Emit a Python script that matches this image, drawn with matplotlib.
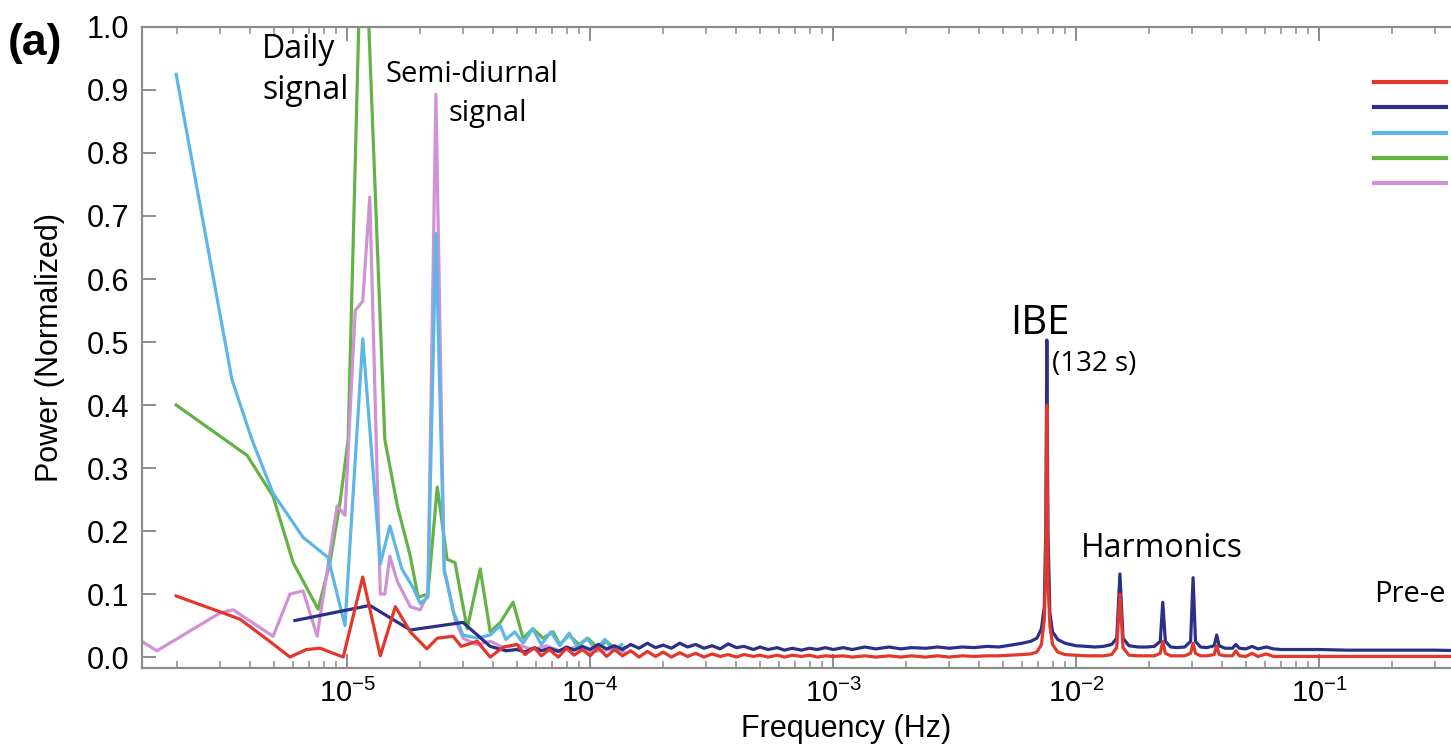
import matplotlib
matplotlib.use("Agg")
import matplotlib.pyplot as plt
from matplotlib.lines import Line2D
from matplotlib.ticker import LogLocator, NullFormatter, FormatStrFormatter

plt.rcParams['font.family'] = ['Liberation Sans', 'DejaVu Sans']
plt.rcParams['mathtext.fontset'] = 'custom'
plt.rcParams['mathtext.rm'] = 'Liberation Sans'
plt.rcParams['mathtext.it'] = 'Liberation Sans:italic'
plt.rcParams['mathtext.bf'] = 'Liberation Sans:bold'

# --- data ---
# low-frequency part, each series has its own sampling
sky_f = [1.98e-6, 3.36e-6, 4.06e-6, 4.96e-6, 6.59e-6, 8.35e-6, 9.8e-6, 1.16e-5,
         1.37e-5, 1.50e-5, 1.68e-5, 1.87e-5, 2.0e-5, 2.15e-5, 2.32e-5, 2.51e-5,
         2.73e-5, 3.0e-5, 3.43e-5, 3.88e-5, 4.27e-5, 4.5e-5, 4.9e-5, 5.3e-5,
         5.8e-5, 6.3e-5, 6.9e-5, 7.5e-5, 8.2e-5, 8.9e-5, 9.7e-5, 1.05e-4,
         1.15e-4, 1.25e-4, 1.35e-4]
sky_p = [0.925, 0.44, 0.345, 0.26, 0.19, 0.158, 0.05, 0.505,
         0.148, 0.208, 0.14, 0.11, 0.085, 0.095, 0.672, 0.14,
         0.073, 0.035, 0.03, 0.035, 0.05, 0.028, 0.04, 0.022,
         0.045, 0.02, 0.04, 0.018, 0.038, 0.015, 0.03, 0.012,
         0.028, 0.01, 0.02]

green_f = [1.98e-6, 3.88e-6, 4.96e-6, 6.0e-6, 7.6e-6, 8.5e-6, 9.35e-6, 1.01e-5,
           1.16e-5, 1.43e-5, 1.61e-5, 1.82e-5, 1.96e-5, 2.15e-5, 2.35e-5, 2.58e-5,
           2.78e-5, 3.12e-5, 3.53e-5, 3.88e-5, 4.27e-5, 4.82e-5, 5.3e-5, 5.82e-5,
           6.4e-5, 7.05e-5, 7.5e-5, 8.2e-5, 9.0e-5, 9.8e-5, 1.07e-4, 1.17e-4,
           1.28e-4, 1.38e-4]
green_p = [0.40, 0.32, 0.255, 0.15, 0.076, 0.15, 0.245, 0.345,
           1.25, 0.345, 0.24, 0.16, 0.095, 0.10, 0.27, 0.155,
           0.15, 0.045, 0.14, 0.04, 0.055, 0.087, 0.03, 0.045,
           0.03, 0.04, 0.02, 0.035, 0.02, 0.03, 0.015, 0.025,
           0.012, 0.015]

pink_f = [1.43e-6, 1.65e-6, 3.0e-6, 3.4e-6, 4.96e-6, 5.82e-6, 6.59e-6, 7.53e-6,
          9.1e-6, 9.8e-6, 1.08e-5, 1.16e-5, 1.24e-5, 1.37e-5, 1.43e-5, 1.50e-5,
          1.61e-5, 1.82e-5, 2.0e-5, 2.15e-5, 2.32e-5, 2.51e-5, 2.58e-5, 2.78e-5,
          3.0e-5, 3.4e-5, 3.9e-5, 4.4e-5, 5.0e-5, 5.8e-5, 6.6e-5, 7.5e-5,
          8.6e-5, 1.0e-4, 1.2e-4, 1.38e-4]
pink_p = [0.025, 0.01, 0.07, 0.075, 0.033, 0.10, 0.105, 0.033,
          0.24, 0.225, 0.55, 0.565, 0.73, 0.10, 0.10, 0.16,
          0.12, 0.08, 0.075, 0.10, 0.893, 0.135, 0.12, 0.06,
          0.03, 0.02, 0.025, 0.015, 0.02, 0.012, 0.018, 0.01,
          0.015, 0.008, 0.012, 0.008]

red_lo_f = [1.98e-6, 3.09e-6, 3.63e-6, 4.69e-6, 5.82e-6, 6.8e-6, 7.75e-6, 9.64e-6,
            1.16e-5, 1.37e-5, 1.58e-5, 1.82e-5, 2.13e-5, 2.35e-5, 2.73e-5, 2.95e-5,
            3.43e-5, 3.88e-5, 4.4e-5]
red_lo_p = [0.097, 0.070, 0.060, 0.028, 0.0, 0.012, 0.014, 0.0,
            0.127, 0.002, 0.08, 0.04, 0.013, 0.03, 0.033, 0.017,
            0.025, 0.0, 0.016]

navy_lo_f = [6.1e-6, 1.24e-5, 1.82e-5, 3.0e-5, 3.88e-5, 4.5e-5]
navy_lo_p = [0.058, 0.082, 0.043, 0.055, 0.017, 0.01]

# shared high-frequency sampling of the red and navy records
hi_f = [5.0e-5, 5.4e-5, 5.9e-5, 6.3e-5, 6.8e-5, 7.4e-5, 8.0e-5, 8.6e-5, 9.3e-5,
        1.0e-4, 1.08e-4, 1.17e-4, 1.26e-4, 1.36e-4, 1.47e-4, 1.59e-4, 1.72e-4,
        1.86e-4, 2.0e-4, 2.16e-4, 2.34e-4, 2.52e-4, 2.72e-4, 2.94e-4, 3.18e-4,
        3.43e-4, 3.7e-4, 4.0e-4, 4.3e-4, 4.7e-4, 5.0e-4, 5.4e-4, 5.9e-4, 6.3e-4,
        6.8e-4, 7.4e-4, 8.0e-4, 8.6e-4, 9.3e-4, 1.0e-3, 1.1e-3, 1.2e-3, 1.35e-3,
        1.5e-3, 1.7e-3, 1.9e-3, 2.1e-3, 2.4e-3, 2.7e-3, 3.0e-3, 3.4e-3, 3.8e-3,
        4.3e-3, 4.8e-3, 5.4e-3, 6.0e-3, 6.5e-3, 6.9e-3, 7.2e-3, 7.4e-3, 7.5e-3,
        7.58e-3, 7.66e-3, 7.8e-3, 8.0e-3, 8.4e-3, 9.0e-3, 1.0e-2, 1.1e-2, 1.2e-2,
        1.3e-2, 1.4e-2, 1.47e-2, 1.515e-2, 1.56e-2, 1.65e-2, 1.8e-2, 1.95e-2,
        2.1e-2, 2.22e-2, 2.273e-2, 2.33e-2, 2.45e-2, 2.6e-2, 2.8e-2, 2.96e-2,
        3.03e-2, 3.1e-2, 3.25e-2, 3.45e-2, 3.7e-2, 3.79e-2, 3.88e-2, 4.1e-2,
        4.4e-2, 4.545e-2, 4.7e-2, 5.0e-2, 5.3e-2, 5.6e-2, 6.06e-2, 6.5e-2,
        7.0e-2, 8.0e-2, 9.0e-2, 0.1, 0.13, 0.16, 0.2, 0.25, 0.3, 0.4, 0.5,
        0.6, 0.8, 0.9]
navy_hi_p = [0.012, 0.008, 0.015, 0.010, 0.014, 0.009, 0.016, 0.011, 0.017,
             0.012, 0.020, 0.013, 0.018, 0.012, 0.020, 0.014, 0.022,
             0.015, 0.019, 0.014, 0.022, 0.016, 0.020, 0.014, 0.018,
             0.013, 0.021, 0.015, 0.017, 0.012, 0.016, 0.012, 0.015, 0.011,
             0.014, 0.011, 0.014, 0.012, 0.015, 0.012, 0.015, 0.012, 0.016,
             0.013, 0.016, 0.013, 0.015, 0.014, 0.016, 0.014, 0.016, 0.015,
             0.017, 0.016, 0.019, 0.022, 0.025, 0.030, 0.045, 0.080, 0.20,
             0.503, 0.20, 0.070, 0.040, 0.028, 0.022, 0.018, 0.017, 0.016,
             0.017, 0.020, 0.030, 0.132, 0.030, 0.018, 0.016, 0.016,
             0.017, 0.025, 0.087, 0.025, 0.016, 0.015, 0.016, 0.025,
             0.126, 0.025, 0.016, 0.015, 0.018, 0.035, 0.018, 0.014,
             0.014, 0.020, 0.014, 0.013, 0.017, 0.013, 0.016, 0.013,
             0.012, 0.012, 0.012, 0.012, 0.011, 0.011, 0.011, 0.011, 0.011, 0.010, 0.010,
             0.010, 0.010, 0.010]
red_hi_p = [0.020, 0.004, 0.015, 0.002, 0.012, 0.000, 0.014, 0.003, 0.012,
            0.002, 0.015, 0.001, 0.012, 0.002, 0.010, 0.000, 0.009,
            0.001, 0.008, 0.000, 0.007, 0.001, 0.006, 0.000, 0.005,
            0.001, 0.004, 0.000, 0.004, 0.001, 0.003, 0.000, 0.003, 0.000,
            0.003, 0.001, 0.003, 0.000, 0.002, 0.001, 0.002, 0.000, 0.002,
            0.000, 0.002, 0.000, 0.002, 0.000, 0.002, 0.000, 0.002, 0.001,
            0.002, 0.002, 0.003, 0.004, 0.005, 0.008, 0.020, 0.060, 0.15,
            0.40, 0.12, 0.050, 0.020, 0.008, 0.004, 0.003, 0.002, 0.002,
            0.002, 0.004, 0.015, 0.100, 0.015, 0.003, 0.002, 0.002,
            0.002, 0.006, 0.025, 0.006, 0.002, 0.002, 0.002, 0.006,
            0.022, 0.006, 0.002, 0.002, 0.004, 0.018, 0.004, 0.002,
            0.002, 0.010, 0.002, 0.001, 0.006, 0.001, 0.005, 0.001,
            0.001, 0.001, 0.001, 0.001, 0.001, 0.001, 0.001, 0.001, 0.001, 0.001, 0.001,
            0.001, 0.001, 0.001]

colors = {'red': '#e2372b', 'navy': '#2c2f88', 'sky': '#5db6e6',
          'green': '#63b246', 'pink': '#cf92d4'}

fig = plt.figure(figsize=(14.51, 7.49), dpi=100)
# axes run past the right edge of the picture, as in the cropped original
ax = fig.add_axes([0.0979, 0.108, 0.971, 0.856])

lw = 2.3
ax.plot(green_f, green_p, color=colors['green'], lw=lw)
ax.plot(pink_f, pink_p, color=colors['pink'], lw=lw)
ax.plot(sky_f, sky_p, color=colors['sky'], lw=lw)
ax.plot(navy_lo_f + hi_f, navy_lo_p + navy_hi_p, color=colors['navy'], lw=lw)
ax.plot(red_lo_f + hi_f, red_lo_p + red_hi_p, color=colors['red'], lw=lw)

ax.set_xscale('log')
ax.set_xlim(1.433e-6, 0.9)
ax.set_ylim(-0.0175, 1.0)

ax.xaxis.set_major_locator(LogLocator(base=10, numticks=20))
ax.xaxis.set_minor_locator(LogLocator(base=10, subs=range(2, 10), numticks=20))
ax.xaxis.set_minor_formatter(NullFormatter())
ax.set_yticks([i / 10 for i in range(11)])
ax.yaxis.set_major_formatter(FormatStrFormatter('%.1f'))

for s in ax.spines.values():
    s.set_color('#8c8c8c')
    s.set_linewidth(1.6)
ax.tick_params(which='both', direction='in', top=True, right=False, color='#8c8c8c')
ax.tick_params(which='major', length=10, width=1.4, pad=9)
ax.tick_params(which='minor', length=5, width=1.1)
ax.tick_params(axis='y', labelsize=22)
ax.tick_params(axis='x', labelsize=21, pad=8)

ax.set_xlabel('Frequency (Hz)', fontsize=22, labelpad=4)
ax.set_ylabel('Power (Normalized)', fontsize=22, labelpad=16)

fig.text(0.005, 0.942, '(a)', fontsize=32, fontweight='bold', va='center', ha='left')

ann = ['Open Sans', 'DejaVu Sans']
ax.text(4.47e-6, 0.99, 'Daily\nsignal', family=ann, fontsize=23, va='top', ha='left',
        linespacing=1.3)
ax.text(3.25e-5, 0.947, 'Semi-diurnal', family=ann, fontsize=21, va='top', ha='center')
ax.text(3.78e-5, 0.885, 'signal', family=ann, fontsize=21, va='top', ha='center')
ax.text(7.1e-3, 0.512, 'IBE', family=ann, fontsize=29, va='baseline', ha='center')
ax.text(7.95e-3, 0.465, '(132 s)', family=ann, fontsize=20, va='center', ha='left')
ax.text(2.25e-2, 0.172, 'Harmonics', family=ann, fontsize=23, va='center', ha='center')
ax.text(0.168, 0.1, 'Pre-e', family=ann, fontsize=21, va='center', ha='left')

handles = [Line2D([], [], color=colors[k], lw=3) for k in ['red', 'navy', 'sky', 'green', 'pink']]
fig.legend(handles, [' '] * 5, loc='upper left', bbox_to_anchor=(0.947, 0.902),
           frameon=False, handlelength=3.25, fontsize=16, labelspacing=0.2,
           borderpad=0, borderaxespad=0, handletextpad=0.2)

fig.savefig('out.png', dpi=100)
